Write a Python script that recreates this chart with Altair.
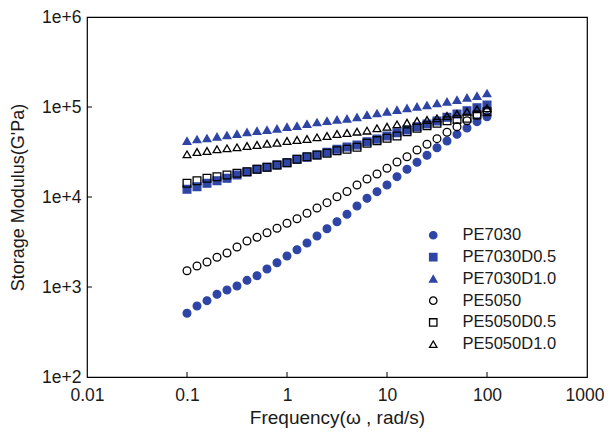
import altair as alt
import pandas as pd

freq_exp = [i / 10 - 1 for i in range(31)]  # 0.1 .. 100, 10 points per decade

series_names = ["PE7030", "PE7030D0.5", "PE7030D1.0", "PE5050", "PE5050D0.5", "PE5050D1.0"]

pe7030 = [511, 615, 705, 830, 926, 1026, 1186, 1336, 1585, 1862, 2210, 2596, 3080, 3685, 4446,
          5316, 6427, 7943, 9680, 11460, 13600, 16820, 20320, 24300, 29060, 35300, 41900, 49700,
          58450, 68700, 78000]
pe7030d05 = [12180, 13000, 14190, 15170, 16130, 17540, 18960, 20320, 21380, 22700, 24050, 26240,
             27620, 29300, 31400, 33900, 35950, 37850, 41100, 44100, 47600, 51800, 55500, 60400,
             64700, 69900, 76900, 83600, 91000, 98200, 105200]
pe7030d10 = [41900, 43750, 44900, 46800, 48500, 50100, 52400, 54100, 55500, 57400, 59950, 61500,
             64700, 67600, 69900, 72200, 74000, 76900, 81500, 85100, 88700, 92700, 96800, 100800,
             104500, 109900, 114600, 119700, 126800, 132500, 141800]
pe5050 = [1518, 1711, 1896, 2138, 2388, 2782, 3245, 3566, 4012, 4490, 5101, 5741, 6590, 7550, 8650,
          10080, 11500, 13600, 15850, 18020, 20830, 24480, 28050, 33270, 38520, 44470, 52360, 60390,
          70400, 81500, 90900]
pe5050d05 = [14190, 15170, 16130, 16820, 17540, 18320, 19100, 20320, 21380, 22700, 24050, 26240,
             28050, 29300, 30600, 32700, 33960, 35650, 39500, 42300, 44900, 47600, 53200, 58000,
             62000, 65900, 70400, 72900, 74800, 81500, 88700]
pe5050d10 = [29800, 31600, 32450, 33900, 34750, 35650, 36900, 37850, 39100, 40100, 41900, 43000,
             44100, 46050, 47600, 50100, 51400, 53200, 54600, 58000, 60400, 64200, 66900, 69900,
             71700, 74900, 79400, 83600, 88700, 94300, 96800]

x_ticks = [0.01, 0.1, 1, 10, 100, 1000]
y_ticks = [100, 1000, 10000, 100000, 1000000]

BLUE = "#2E45A6"
all_values = [pe7030, pe7030d05, pe7030d10, pe5050, pe5050d05, pe5050d10]
rows = []
for name, vals in zip(series_names, all_values):
    for e, v in zip(freq_exp, vals):
        rows.append({"series": name, "freq": round(10 ** e, 6), "G": v})
df = pd.DataFrame(rows)

shapes = ["circle", "square", "triangle-up", "circle", "square", "triangle-up"]
fills = [BLUE, BLUE, BLUE, "transparent", "transparent", "transparent"]
strokes = [BLUE, BLUE, BLUE, "black", "black", "black"]

FONT = "Liberation Sans"
TXT = "#1a1a1a"
xscale = alt.Scale(type="log", domain=[0.01, 1000])
yscale = alt.Scale(type="log", domain=[100, 1000000])

legend = alt.Legend(title=None, orient="none", legendX=338, legendY=210, labelFontSize=16.5,
                    labelFont=FONT, labelColor=TXT, symbolSize=55, symbolStrokeWidth=1.3,
                    rowPadding=4.8, labelOffset=21, symbolOffset=0)

points = alt.Chart(df).mark_point(filled=True, size=60, strokeWidth=1.3, opacity=1).encode(
    x=alt.X("freq:Q", scale=xscale,
            axis=alt.Axis(values=x_ticks, format="~g", title="Frequency(ω , rad/s)",
                          tickSize=0, labelPadding=9, grid=False, domain=False,
                          labelFontSize=17.5, titleFontSize=19, labelFont=FONT, titleFont=FONT,
                          labelColor=TXT, titleColor=TXT, titleFontWeight="normal",
                          titlePadding=5, labelFlush=True, labelFlushOffset=17)),
    y=alt.Y("G:Q", scale=yscale,
            axis=alt.Axis(values=y_ticks, labelExpr="'1e+' + round(log(datum.value) / LN10)",
                          title="Storage Modulus(G'Pa)", tickSize=0, labelPadding=6, grid=False,
                          domain=False, labelFontSize=17.5, titleFontSize=18, labelFont=FONT,
                          titleFont=FONT, labelColor=TXT, titleColor=TXT,
                          titleFontWeight="normal", titlePadding=14, labelFlush=False)),
    shape=alt.Shape("series:N", scale=alt.Scale(domain=series_names, range=shapes), legend=legend),
    fill=alt.Fill("series:N", scale=alt.Scale(domain=series_names, range=fills), legend=legend),
    stroke=alt.Stroke("series:N", scale=alt.Scale(domain=series_names, range=strokes), legend=legend),
)

xt = pd.DataFrame({"t": x_ticks[1:-1]})
yt = pd.DataFrame({"t": y_ticks[1:-1]})
xtick_marks = alt.Chart(xt).mark_rule(color="black", strokeWidth=1).encode(
    x=alt.X("t:Q", scale=xscale), y=alt.value(360), y2=alt.value(355))
ytick_marks = alt.Chart(yt).mark_rule(color="black", strokeWidth=1).encode(
    y=alt.Y("t:Q", scale=yscale), x=alt.value(0), x2=alt.value(5))

chart = alt.layer(points, xtick_marks, ytick_marks).properties(
    width=500, height=360,
    autosize=alt.AutoSizeParams(type="none"),
    padding={"left": 79, "top": 9, "right": 17, "bottom": 51},
    background="white",
).configure_view(stroke="black", strokeWidth=1.2)

chart.save("out.html", embed_options={"renderer": "svg", "actions": False})
